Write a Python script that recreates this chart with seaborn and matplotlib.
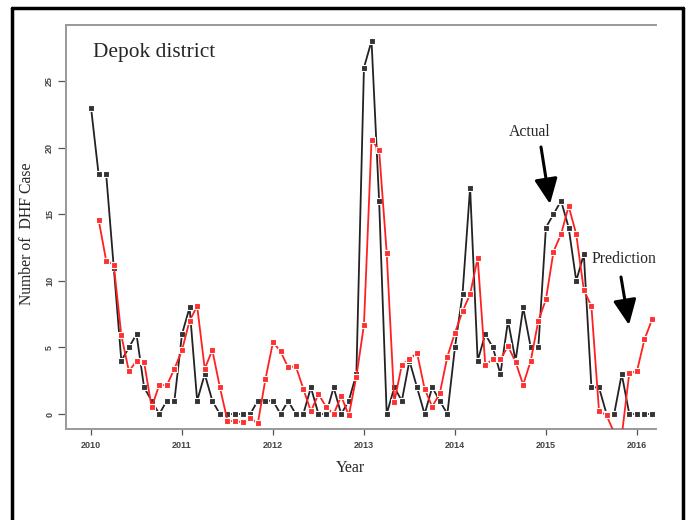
import numpy as np
import pandas as pd
import matplotlib
matplotlib.use("Agg")
import matplotlib.pyplot as plt
from matplotlib.lines import Line2D
import seaborn as sns

# ---- data (monthly, Jan 2010 - Mar 2016) ----
start_year = 2010
actual = [23, 18, 18, 11, 4, 5, 6, 2, 1, 0, 1, 1,
          6, 8, 1, 3, 1, 0, 0, 0, 0, 0, 1, 1,
          1, 0, 1, 0, 0, 2, 0, 0, 2, 0, 1, 3,
          26, 28, 16, 0, 2, 1, 4, 2, 0, 2, 1, 0,
          5, 9, 17, 4, 6, 5, 3, 7, 4, 8, 5, 5,
          14, 15, 16, 14, 10, 12, 2, 2, 0, 0, 3, 0,
          0, 0, 0]
# prediction starts one month later (Feb 2010)
prediction = [14.6, 11.5, 11.2, 5.9, 3.2, 4.0, 3.9, 0.5, 2.2, 2.15, 3.4,
              4.8, 7.0, 8.1, 3.4, 4.8, 2.0, -0.5, -0.55, -0.6, -0.3, -0.7, 2.6,
              5.4, 4.7, 3.5, 3.6, 1.9, 0.2, 1.5, 0.55, 0.0, 1.35, -0.1, 2.8,
              6.7, 20.6, 19.8, 12.1, 0.9, 3.7, 4.1, 4.6, 1.9, 0.55, 1.55, 4.3,
              6.1, 7.7, 9.0, 11.7, 3.7, 4.1, 4.1, 5.1, 3.9, 2.2, 4.0, 7.0,
              8.6, 12.2, 13.5, 15.6, 13.5, 9.3, 8.1, 0.25, -0.1, -1.4, -1.65, 3.1,
              3.2, 5.6, 7.1]
pred_offset = 1
year_ticks = [2010, 2011, 2012, 2013, 2014, 2015, 2016]
y_ticks = [0, 5, 10, 15, 20, 25]

t_act = start_year + np.arange(len(actual)) / 12.0
t_pred = start_year + (np.arange(len(prediction)) + pred_offset) / 12.0
df_act = pd.DataFrame({"t": t_act, "v": actual})
df_pred = pd.DataFrame({"t": t_pred, "v": prediction})

sns.set_style("white")
serif = ["Liberation Serif", "DejaVu Serif"]
sans = ["Liberation Sans", "DejaVu Sans"]
plt.rcParams["font.family"] = sans

fig = plt.figure(figsize=(6.9, 5.2), dpi=100)
ax = fig.add_axes([66 / 690, 1 - 429 / 520, (656 - 66) / 690, (429 - 25) / 520])

sns.lineplot(data=df_act, x="t", y="v", ax=ax, color="#222222", lw=1.3,
             marker="s", markersize=3.9, markeredgecolor="white",
             markeredgewidth=0.8, markerfacecolor="#333333", zorder=3)
sns.lineplot(data=df_pred, x="t", y="v", ax=ax, color="#ff2020", lw=1.3,
             marker="s", markersize=3.9, markeredgecolor="white",
             markeredgewidth=0.8, markerfacecolor="#ff3030", zorder=4)

ax.set_xlim(2009.725, 2016.21)
ax.set_ylim(-1.12, 29.2)
ax.set_xticks(year_ticks)
ax.set_xticklabels([str(y) for y in year_ticks])
ax.set_yticks(y_ticks)
ax.set_yticklabels([str(y) for y in y_ticks], rotation=90, va="center")
ax.tick_params(axis="x", length=4.5, width=0.9, color="#555555", labelsize=6.5,
               labelcolor="#444444", pad=4, direction="out", bottom=True)
ax.tick_params(axis="y", length=5.5, width=0.9, color="#555555", labelsize=6.5,
               labelcolor="#444444", pad=3, direction="out", left=True)
for lab in ax.get_xticklabels() + ax.get_yticklabels():
    lab.set_fontweight("bold")

for s in ["left", "bottom", "top"]:
    ax.spines[s].set_visible(True)
    ax.spines[s].set_color("#999999")
    ax.spines[s].set_linewidth(1.4)
ax.spines["right"].set_visible(False)

ax.set_xlabel("")
ax.set_ylabel("")
fig.text(350 / 690, 1 - 468 / 520, "Year", family=serif, fontsize=11.5,
         ha="center", va="center")
fig.text(27 / 690, 1 - 234 / 520, "Number of  DHF Case", family=serif,
         fontsize=11.3, rotation=90, ha="center", va="center")

fig.text(93 / 690, 1 - 53 / 520, "Depok district", family=serif, fontsize=15.4,
         ha="left", va="center")
fig.text(530 / 690, 1 - 132 / 520, "Actual", family=serif, fontsize=11.3,
         ha="center", va="center")
fig.text(624 / 690, 1 - 259 / 520, "Prediction", family=serif, fontsize=11.3,
         ha="center", va="center")

# arrows (in pixel/figure coordinates)
def arrow(x0, y0, x1, y1):
    fig.add_artist(matplotlib.patches.FancyArrowPatch(
        (x0 / 690, 1 - y0 / 520), (x1 / 690, 1 - y1 / 520),
        transform=fig.transFigure, arrowstyle="-|>,head_length=7,head_width=3.2",
        color="black", lw=2.2, mutation_scale=2.2, shrinkA=0, shrinkB=0))

arrow(541, 147, 550, 204)
arrow(621, 277, 629, 325)

# outer black frame
lw = 2.5
fig.add_artist(Line2D([12 / 690, 12 / 690], [0, 1 - 8 / 520], transform=fig.transFigure, color="black", lw=lw))
fig.add_artist(Line2D([683 / 690, 683 / 690], [0, 1 - 8 / 520], transform=fig.transFigure, color="black", lw=lw))
fig.add_artist(Line2D([12 / 690, 683 / 690], [1 - 8 / 520, 1 - 8 / 520], transform=fig.transFigure, color="black", lw=lw))

fig.savefig("out.png", dpi=100)
